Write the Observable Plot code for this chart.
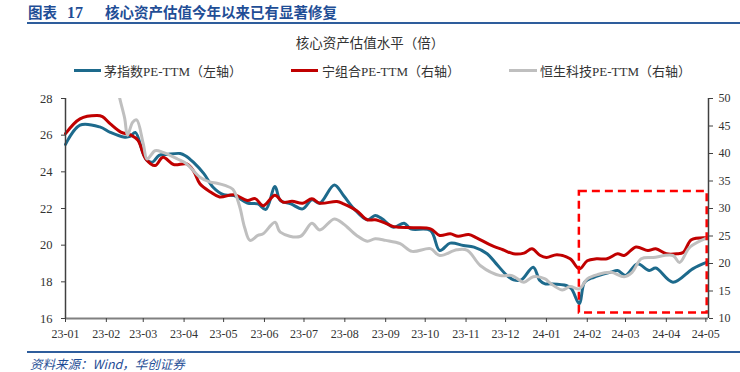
<!DOCTYPE html>
<html>
<head>
<meta charset="utf-8">
<script src="https://cdn.jsdelivr.net/npm/d3@7"></script>
<script src="https://cdn.jsdelivr.net/npm/@observablehq/plot@0.6"></script>
<style>
  html, body { margin: 0; padding: 0; background: #fff; }
  body { width: 740px; height: 372px; position: relative; overflow: hidden;
         font-family: "Liberation Serif", "Noto Sans CJK SC", serif; }
  .abs { position: absolute; white-space: nowrap; }
  #title { left: 28px; top: 2px; font-size: 14.5px; font-weight: bold; color: #1f4e96;
           font-family: "Noto Sans CJK SC", sans-serif; line-height: 20px; }
  #title .num { font-family: "Liberation Serif", serif; font-size: 16px; margin: 0 22px 0 10px; }
  #topline { left: 27px; top: 22px; width: 713px; height: 2px; background: #2e5d9c; }
  #ctitle { left: 0; width: 740px; top: 33px; text-align: center; font-size: 13.5px; color: #333;
            font-family: "Noto Sans CJK SC", sans-serif; line-height: 18px; }
  .leg { top: 62px; font-size: 13px; color: #333; line-height: 18px; }
  .leg .cjk { font-family: "Noto Sans CJK SC", sans-serif; }
  .sw { position: absolute; top: 69px; height: 3px; }
  #botline { left: 27px; top: 351px; width: 713px; height: 2px; background: #2e5d9c; }
  #source { left: 30px; top: 356px; font-size: 12.5px; color: #1f4e96; font-style: italic;
            font-family: "Noto Sans CJK SC", sans-serif; line-height: 15px; }
  #chart { position: absolute; left: 0; top: 80px; }
</style>
</head>
<body>
<div class="abs" id="title">图表<span class="num">17</span>核心资产估值今年以来已有显著修复</div>
<div class="abs" id="topline"></div>
<div class="abs" id="ctitle">核心资产估值水平（倍）</div>
<div class="sw" style="left:74px;width:27px;background:#1d6a8c"></div>
<div class="abs leg" style="left:104px"><span class="cjk">茅指数</span>PE-TTM<span class="cjk">（左轴）</span></div>
<div class="sw" style="left:291px;width:27px;background:#c00000"></div>
<div class="abs leg" style="left:322px"><span class="cjk">宁组合</span>PE-TTM<span class="cjk">（右轴）</span></div>
<div class="sw" style="left:509px;width:28px;background:#bfbfbf"></div>
<div class="abs leg" style="left:540px"><span class="cjk">恒生科技</span>PE-TTM<span class="cjk">（右轴）</span></div>
<div class="abs" id="botline"></div>
<div class="abs" id="source">资料来源：Wind，华创证券</div>
<div id="chart"></div>
<script>
// ---- Data ----
// 茅指数 PE-TTM (left axis)
const maoDates = ["2023-01-01","2023-01-12","2023-01-27","2023-02-04","2023-02-14","2023-02-19","2023-02-23","2023-03-01","2023-03-04","2023-03-08","2023-03-13","2023-03-19","2023-03-29","2023-04-02","2023-04-08","2023-04-16","2023-04-23","2023-05-01","2023-05-09","2023-05-19","2023-05-27","2023-06-02","2023-06-09","2023-06-13","2023-06-21","2023-06-30","2023-07-07","2023-07-13","2023-07-24","2023-07-31","2023-08-08","2023-08-18","2023-08-24","2023-08-29","2023-09-07","2023-09-15","2023-09-20","2023-10-05","2023-10-12","2023-10-20","2023-10-30","2023-11-07","2023-11-17","2023-11-24","2023-12-02","2023-12-07","2023-12-13","2023-12-22","2023-12-27","2023-12-31","2024-01-04","2024-01-16","2024-01-20","2024-01-26","2024-01-30","2024-02-06","2024-02-19","2024-02-24","2024-03-01","2024-03-10","2024-03-19","2024-03-24","2024-04-06","2024-04-21","2024-05-02"];
const maoValues = [25.5,26.55,26.45,26.15,25.9,25.93,26.15,24.98,24.62,24.53,24.9,24.95,25.0,24.88,24.53,23.9,23.16,22.75,22.7,22.3,22.25,21.95,23.2,22.44,22.25,21.98,22.47,22.29,23.28,22.71,21.98,21.38,21.62,21.45,20.98,21.2,20.89,20.8,19.71,20.11,19.98,19.89,19.53,18.98,18.35,18.11,18.11,18.8,18.07,17.89,17.89,17.8,17.62,16.8,17.98,18.25,18.53,18.62,18.35,18.98,18.62,18.75,17.98,18.71,19.07];

// 宁组合 PE-TTM (right axis)
const ningDates = ["2023-01-01","2023-01-12","2023-01-25","2023-01-29","2023-02-04","2023-02-12","2023-02-20","2023-02-25","2023-03-03","2023-03-10","2023-03-16","2023-03-24","2023-04-03","2023-04-08","2023-04-13","2023-04-21","2023-04-28","2023-05-09","2023-05-19","2023-05-25","2023-05-31","2023-06-09","2023-06-15","2023-06-22","2023-06-30","2023-07-07","2023-07-13","2023-07-26","2023-07-31","2023-08-10","2023-08-18","2023-08-24","2023-09-01","2023-09-07","2023-09-22","2023-10-05","2023-10-12","2023-10-20","2023-10-26","2023-11-03","2023-11-09","2023-11-19","2023-11-29","2023-12-07","2023-12-15","2023-12-21","2023-12-27","2024-01-01","2024-01-09","2024-01-19","2024-01-26","2024-02-01","2024-02-08","2024-02-16","2024-02-24","2024-02-29","2024-03-09","2024-03-18","2024-03-24","2024-04-01","2024-04-09","2024-04-14","2024-04-20","2024-05-02"];
const ningValues = [43.6,46.3,46.9,46.7,45.4,43.9,43.3,42.4,39.0,37.8,39.3,38.0,38.1,36.9,34.5,33.0,32.1,32.5,31.45,31.8,30.5,32.4,31.15,31.3,30.96,31.76,30.96,31.27,30.85,29.6,27.95,27.95,27.3,26.7,26.5,26.3,25.1,25.4,24.96,25.27,24.67,23.45,22.5,21.76,21.88,22.67,21.5,21.1,21.6,20.85,19.0,20.5,20.85,20.85,21.76,21.45,23.0,22.36,22.67,21.76,21.76,22.05,24.3,24.67];

// 恒生科技 PE-TTM (right axis) — early values run above the top of the axis
const hsDates = ["2023-01-22","2023-02-06","2023-02-11","2023-02-15","2023-02-17","2023-02-21","2023-02-24","2023-03-01","2023-03-04","2023-03-10","2023-03-16","2023-03-27","2023-04-03","2023-04-13","2023-04-21","2023-04-26","2023-05-02","2023-05-08","2023-05-13","2023-05-17","2023-05-21","2023-05-27","2023-05-31","2023-06-09","2023-06-13","2023-06-28","2023-07-07","2023-07-13","2023-07-24","2023-07-31","2023-08-10","2023-08-18","2023-08-24","2023-09-01","2023-09-12","2023-09-21","2023-10-05","2023-10-12","2023-10-25","2023-11-02","2023-11-12","2023-11-27","2023-12-06","2023-12-15","2023-12-22","2023-12-31","2024-01-04","2024-01-13","2024-01-19","2024-01-26","2024-02-01","2024-02-09","2024-02-19","2024-02-29","2024-03-06","2024-03-13","2024-03-22","2024-04-06","2024-04-11","2024-04-19","2024-05-02"];
const hsValues = [72,56,50.2,46.3,43.3,45.7,46.1,41.8,39.0,40.5,40.2,39.0,38.1,35.7,34.8,34.6,34.2,33.5,30.5,26.5,24.2,25.1,25.4,27.5,25.7,24.9,27.3,26.1,28.1,27.2,25.1,24.05,24.5,24.2,23.6,22.2,22.7,21.45,22.5,22.4,19.6,17.8,17.8,16.6,17.6,17.2,16.4,15.2,15.8,15.4,17.2,18.0,18.4,17.6,18.4,20.85,21.1,21.45,20.2,23.0,24.67];

// Highlighted window (dashed box), right-axis units
const boxDates = ["2024-01-26", "2024-05-02"];
const boxValues = [11.0, 33.1];

// Axes
const xDomainDates = ["2023-01-01", "2024-05-03"];
const monthTicks = ["2023-01-01","2023-02-01","2023-03-01","2023-04-01","2023-05-01","2023-06-01","2023-07-01","2023-08-01","2023-09-01","2023-10-01","2023-11-01","2023-12-01","2024-01-01","2024-02-01","2024-03-01","2024-04-01","2024-05-01"];
const leftTicks = [16, 18, 20, 22, 24, 26, 28];
const rightTicks = [10, 15, 20, 25, 30, 35, 40, 45, 50];

// ---- Build ----
const P = d3.utcParse("%Y-%m-%d");
const L0 = leftTicks[0], L1 = leftTicks[leftTicks.length - 1];
const R0 = rightTicks[0], R1 = rightTicks[rightTicks.length - 1];
const toLeft = v => L0 + (v - R0) * (L1 - L0) / (R1 - R0);
const toRight = v => R0 + (v - L0) * (R1 - R0) / (L1 - L0);

const mao = maoDates.map((d, i) => ({date: P(d), v: maoValues[i]}));
const ning = ningDates.map((d, i) => ({date: P(d), v: toLeft(ningValues[i])}));
const hs = hsDates.map((d, i) => ({date: P(d), v: toLeft(hsValues[i])}));
const box = [{x1: P(boxDates[0]), x2: P(boxDates[1]), y1: toLeft(boxValues[0]), y2: toLeft(boxValues[1])}];
const xDomain = xDomainDates.map(P);
const fmt = d3.utcFormat("%y-%m");

const chart = Plot.plot({
  width: 740,
  height: 265,
  marginTop: 18,
  marginBottom: 27,
  marginLeft: 65,
  marginRight: 32,
  style: {fontFamily: "Liberation Serif, serif", color: "#333", background: "transparent"},
  x: {type: "utc", domain: xDomain},
  y: {domain: [L0, L1]},
  marks: [
    Plot.line(mao, {x: "date", y: "v", stroke: "#1d6a8c", strokeWidth: 3, curve: "catmull-rom"}),
    Plot.line(ning, {x: "date", y: "v", stroke: "#c00000", strokeWidth: 3, curve: "catmull-rom"}),
    Plot.line(hs, {x: "date", y: "v", stroke: "#bfbfbf", strokeWidth: 3, curve: "catmull-rom", clip: true}),
    Plot.rect(box, {x1: "x1", x2: "x2", y1: "y1", y2: "y2", fill: "none", stroke: "#ff0000", strokeWidth: 2.5, strokeDasharray: "8,5"}),
    Plot.ruleY([L0], {stroke: "#808080", strokeWidth: 2}),
    Plot.ruleX([xDomain[0]], {stroke: "#404040", strokeWidth: 1.5}),
    Plot.ruleX([xDomain[1]], {stroke: "#404040", strokeWidth: 1.5}),
    Plot.axisX(monthTicks.map(P), {tickFormat: fmt, tickSize: 4, tickPadding: 7, fontSize: 12, stroke: "#404040", label: null}),
    Plot.axisY(leftTicks, {anchor: "left", tickSize: 4, tickPadding: 9, fontSize: 12.5, stroke: "#404040", label: null}),
    Plot.axisY(rightTicks.map(toLeft), {anchor: "right", tickSize: 4, tickPadding: 6, fontSize: 12, stroke: "#404040", tickFormat: v => String(Math.round(toRight(v))), label: null})
  ]
});
document.getElementById("chart").appendChild(chart);
</script>
</body>
</html>
